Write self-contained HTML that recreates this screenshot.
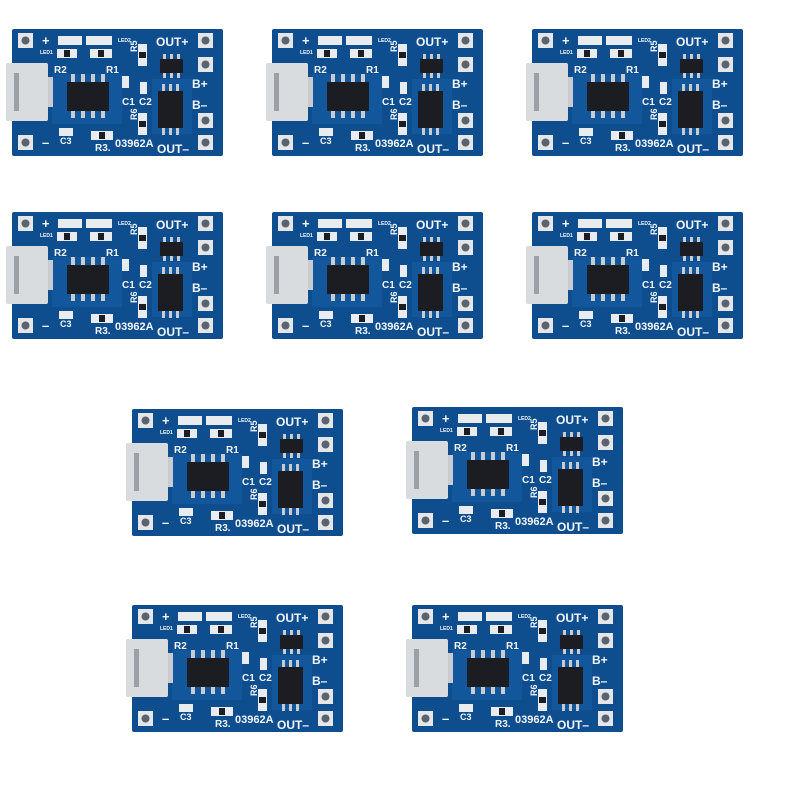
<!DOCTYPE html>
<html><head><meta charset="utf-8"><style>
html,body{margin:0;padding:0;background:#fff;width:800px;height:800px;overflow:hidden}
svg{display:block}
text{font-family:"Liberation Sans",sans-serif;font-weight:bold;fill:#f2f6fb}
.b{fill:#0f4e8e}.t{fill:#1560a8}.p{fill:#e4e6e8}.h{fill:#5a6470}.k{fill:#1b1d22}.w{fill:#d8dcdf}.s{fill:#c8ccd0}.sm{fill:#e8ecef}
</style></head><body>
<svg width="800" height="800" viewBox="0 0 800 800">
<defs></defs>

<g transform="translate(12,29)">
<rect class="b" x="0" y="0" width="211" height="127" rx="2"/>
<rect class="t" x="40" y="45" width="70" height="50" opacity=".5"/><rect class="t" x="140" y="50" width="40" height="55" opacity=".5"/>
<rect class="p" x="6" y="4" width="15" height="15"/><circle class="h" cx="13.5" cy="11.5" r="4"/>
<rect class="p" x="6" y="106" width="15" height="15"/><circle class="h" cx="13.5" cy="113.5" r="4"/>
<rect class="p" x="186" y="4" width="15" height="15"/><circle class="h" cx="193.5" cy="11.5" r="4"/>
<rect class="p" x="186" y="28" width="15" height="15"/><circle class="h" cx="193.5" cy="35.5" r="4"/>
<rect class="p" x="186" y="84" width="15" height="15"/><circle class="h" cx="193.5" cy="91.5" r="4"/>
<rect class="p" x="186" y="106" width="15" height="15"/><circle class="h" cx="193.5" cy="113.5" r="4"/>
<rect class="w" x="-6" y="34" width="42" height="58" rx="2"/><rect x="2" y="44" width="5" height="38" fill="#9aa0a6"/><rect x="36" y="48" width="5" height="30" class="s"/>
<rect class="sm" x="46" y="7" width="24" height="9"/><rect class="sm" x="74" y="7" width="26" height="9"/>
<rect class="sm" x="45" y="20" width="20" height="9"/><rect class="k" x="52" y="21" width="6" height="7"/>
<rect class="sm" x="78" y="20" width="22" height="9"/><rect class="k" x="86" y="21" width="6" height="7"/>
<rect class="sm" x="126" y="15" width="9" height="22"/><rect class="k" x="127" y="23" width="7" height="6"/>
<rect class="sm" x="126" y="84" width="9" height="22"/><rect class="k" x="127" y="92" width="7" height="6"/>
<rect class="sm" x="110" y="47" width="7" height="12"/><rect class="sm" x="128" y="53" width="7" height="12"/>
<rect class="sm" x="47" y="99" width="14" height="8"/><rect class="sm" x="79" y="102" width="22" height="9"/><rect class="k" x="87" y="103" width="6" height="7"/>
<rect class="s" x="59" y="45" width="4" height="9"/><rect class="s" x="69" y="45" width="4" height="9"/><rect class="s" x="79" y="45" width="4" height="9"/><rect class="s" x="89" y="45" width="4" height="9"/>
<rect class="s" x="59" y="80" width="4" height="9"/><rect class="s" x="69" y="80" width="4" height="9"/><rect class="s" x="79" y="80" width="4" height="9"/><rect class="s" x="89" y="80" width="4" height="9"/>
<rect class="k" x="55" y="53" width="42" height="29"/>
<rect class="s" x="151" y="25" width="3" height="6"/><rect class="s" x="158" y="25" width="3" height="6"/><rect class="s" x="165" y="25" width="3" height="6"/>
<rect class="s" x="151" y="43" width="3" height="6"/><rect class="s" x="158" y="43" width="3" height="6"/><rect class="s" x="165" y="43" width="3" height="6"/>
<rect class="k" x="148" y="30" width="23" height="14"/>
<rect class="s" x="150" y="55" width="3" height="8"/><rect class="s" x="157" y="55" width="3" height="8"/><rect class="s" x="164" y="55" width="3" height="8"/>
<rect class="s" x="150" y="98" width="3" height="8"/><rect class="s" x="157" y="98" width="3" height="8"/><rect class="s" x="164" y="98" width="3" height="8"/>
<rect class="k" x="146" y="62" width="25" height="37"/>
<text x="30" y="16" font-size="13">+</text><text x="28" y="25" font-size="5">LED1</text><text x="106" y="13" font-size="5">LED2</text>
<text x="144" y="17" font-size="12">OUT+</text><text x="42" y="44" font-size="10">R2</text><text x="94" y="44" font-size="10">R1</text>
<text x="124" y="32" font-size="9" transform="rotate(-90 120 27)">R5</text><text x="124" y="100" font-size="9" transform="rotate(-90 120 95)">R6</text>
<text x="110" y="76" font-size="10">C1</text><text x="127" y="76" font-size="10">C2</text>
<text x="180" y="59" font-size="12">B+</text><text x="180" y="80" font-size="12">B–</text>
<text x="48" y="115" font-size="9">C3</text><text x="83" y="122" font-size="10">R3.</text><text x="103" y="118" font-size="11">03962A</text><text x="145" y="124" font-size="12">OUT–</text><text x="30" y="118" font-size="13">–</text>
</g>

<g transform="translate(272,29)">
<rect class="b" x="0" y="0" width="211" height="127" rx="2"/>
<rect class="t" x="40" y="45" width="70" height="50" opacity=".5"/><rect class="t" x="140" y="50" width="40" height="55" opacity=".5"/>
<rect class="p" x="6" y="4" width="15" height="15"/><circle class="h" cx="13.5" cy="11.5" r="4"/>
<rect class="p" x="6" y="106" width="15" height="15"/><circle class="h" cx="13.5" cy="113.5" r="4"/>
<rect class="p" x="186" y="4" width="15" height="15"/><circle class="h" cx="193.5" cy="11.5" r="4"/>
<rect class="p" x="186" y="28" width="15" height="15"/><circle class="h" cx="193.5" cy="35.5" r="4"/>
<rect class="p" x="186" y="84" width="15" height="15"/><circle class="h" cx="193.5" cy="91.5" r="4"/>
<rect class="p" x="186" y="106" width="15" height="15"/><circle class="h" cx="193.5" cy="113.5" r="4"/>
<rect class="w" x="-6" y="34" width="42" height="58" rx="2"/><rect x="2" y="44" width="5" height="38" fill="#9aa0a6"/><rect x="36" y="48" width="5" height="30" class="s"/>
<rect class="sm" x="46" y="7" width="24" height="9"/><rect class="sm" x="74" y="7" width="26" height="9"/>
<rect class="sm" x="45" y="20" width="20" height="9"/><rect class="k" x="52" y="21" width="6" height="7"/>
<rect class="sm" x="78" y="20" width="22" height="9"/><rect class="k" x="86" y="21" width="6" height="7"/>
<rect class="sm" x="126" y="15" width="9" height="22"/><rect class="k" x="127" y="23" width="7" height="6"/>
<rect class="sm" x="126" y="84" width="9" height="22"/><rect class="k" x="127" y="92" width="7" height="6"/>
<rect class="sm" x="110" y="47" width="7" height="12"/><rect class="sm" x="128" y="53" width="7" height="12"/>
<rect class="sm" x="47" y="99" width="14" height="8"/><rect class="sm" x="79" y="102" width="22" height="9"/><rect class="k" x="87" y="103" width="6" height="7"/>
<rect class="s" x="59" y="45" width="4" height="9"/><rect class="s" x="69" y="45" width="4" height="9"/><rect class="s" x="79" y="45" width="4" height="9"/><rect class="s" x="89" y="45" width="4" height="9"/>
<rect class="s" x="59" y="80" width="4" height="9"/><rect class="s" x="69" y="80" width="4" height="9"/><rect class="s" x="79" y="80" width="4" height="9"/><rect class="s" x="89" y="80" width="4" height="9"/>
<rect class="k" x="55" y="53" width="42" height="29"/>
<rect class="s" x="151" y="25" width="3" height="6"/><rect class="s" x="158" y="25" width="3" height="6"/><rect class="s" x="165" y="25" width="3" height="6"/>
<rect class="s" x="151" y="43" width="3" height="6"/><rect class="s" x="158" y="43" width="3" height="6"/><rect class="s" x="165" y="43" width="3" height="6"/>
<rect class="k" x="148" y="30" width="23" height="14"/>
<rect class="s" x="150" y="55" width="3" height="8"/><rect class="s" x="157" y="55" width="3" height="8"/><rect class="s" x="164" y="55" width="3" height="8"/>
<rect class="s" x="150" y="98" width="3" height="8"/><rect class="s" x="157" y="98" width="3" height="8"/><rect class="s" x="164" y="98" width="3" height="8"/>
<rect class="k" x="146" y="62" width="25" height="37"/>
<text x="30" y="16" font-size="13">+</text><text x="28" y="25" font-size="5">LED1</text><text x="106" y="13" font-size="5">LED2</text>
<text x="144" y="17" font-size="12">OUT+</text><text x="42" y="44" font-size="10">R2</text><text x="94" y="44" font-size="10">R1</text>
<text x="124" y="32" font-size="9" transform="rotate(-90 120 27)">R5</text><text x="124" y="100" font-size="9" transform="rotate(-90 120 95)">R6</text>
<text x="110" y="76" font-size="10">C1</text><text x="127" y="76" font-size="10">C2</text>
<text x="180" y="59" font-size="12">B+</text><text x="180" y="80" font-size="12">B–</text>
<text x="48" y="115" font-size="9">C3</text><text x="83" y="122" font-size="10">R3.</text><text x="103" y="118" font-size="11">03962A</text><text x="145" y="124" font-size="12">OUT–</text><text x="30" y="118" font-size="13">–</text>
</g>

<g transform="translate(532,29)">
<rect class="b" x="0" y="0" width="211" height="127" rx="2"/>
<rect class="t" x="40" y="45" width="70" height="50" opacity=".5"/><rect class="t" x="140" y="50" width="40" height="55" opacity=".5"/>
<rect class="p" x="6" y="4" width="15" height="15"/><circle class="h" cx="13.5" cy="11.5" r="4"/>
<rect class="p" x="6" y="106" width="15" height="15"/><circle class="h" cx="13.5" cy="113.5" r="4"/>
<rect class="p" x="186" y="4" width="15" height="15"/><circle class="h" cx="193.5" cy="11.5" r="4"/>
<rect class="p" x="186" y="28" width="15" height="15"/><circle class="h" cx="193.5" cy="35.5" r="4"/>
<rect class="p" x="186" y="84" width="15" height="15"/><circle class="h" cx="193.5" cy="91.5" r="4"/>
<rect class="p" x="186" y="106" width="15" height="15"/><circle class="h" cx="193.5" cy="113.5" r="4"/>
<rect class="w" x="-6" y="34" width="42" height="58" rx="2"/><rect x="2" y="44" width="5" height="38" fill="#9aa0a6"/><rect x="36" y="48" width="5" height="30" class="s"/>
<rect class="sm" x="46" y="7" width="24" height="9"/><rect class="sm" x="74" y="7" width="26" height="9"/>
<rect class="sm" x="45" y="20" width="20" height="9"/><rect class="k" x="52" y="21" width="6" height="7"/>
<rect class="sm" x="78" y="20" width="22" height="9"/><rect class="k" x="86" y="21" width="6" height="7"/>
<rect class="sm" x="126" y="15" width="9" height="22"/><rect class="k" x="127" y="23" width="7" height="6"/>
<rect class="sm" x="126" y="84" width="9" height="22"/><rect class="k" x="127" y="92" width="7" height="6"/>
<rect class="sm" x="110" y="47" width="7" height="12"/><rect class="sm" x="128" y="53" width="7" height="12"/>
<rect class="sm" x="47" y="99" width="14" height="8"/><rect class="sm" x="79" y="102" width="22" height="9"/><rect class="k" x="87" y="103" width="6" height="7"/>
<rect class="s" x="59" y="45" width="4" height="9"/><rect class="s" x="69" y="45" width="4" height="9"/><rect class="s" x="79" y="45" width="4" height="9"/><rect class="s" x="89" y="45" width="4" height="9"/>
<rect class="s" x="59" y="80" width="4" height="9"/><rect class="s" x="69" y="80" width="4" height="9"/><rect class="s" x="79" y="80" width="4" height="9"/><rect class="s" x="89" y="80" width="4" height="9"/>
<rect class="k" x="55" y="53" width="42" height="29"/>
<rect class="s" x="151" y="25" width="3" height="6"/><rect class="s" x="158" y="25" width="3" height="6"/><rect class="s" x="165" y="25" width="3" height="6"/>
<rect class="s" x="151" y="43" width="3" height="6"/><rect class="s" x="158" y="43" width="3" height="6"/><rect class="s" x="165" y="43" width="3" height="6"/>
<rect class="k" x="148" y="30" width="23" height="14"/>
<rect class="s" x="150" y="55" width="3" height="8"/><rect class="s" x="157" y="55" width="3" height="8"/><rect class="s" x="164" y="55" width="3" height="8"/>
<rect class="s" x="150" y="98" width="3" height="8"/><rect class="s" x="157" y="98" width="3" height="8"/><rect class="s" x="164" y="98" width="3" height="8"/>
<rect class="k" x="146" y="62" width="25" height="37"/>
<text x="30" y="16" font-size="13">+</text><text x="28" y="25" font-size="5">LED1</text><text x="106" y="13" font-size="5">LED2</text>
<text x="144" y="17" font-size="12">OUT+</text><text x="42" y="44" font-size="10">R2</text><text x="94" y="44" font-size="10">R1</text>
<text x="124" y="32" font-size="9" transform="rotate(-90 120 27)">R5</text><text x="124" y="100" font-size="9" transform="rotate(-90 120 95)">R6</text>
<text x="110" y="76" font-size="10">C1</text><text x="127" y="76" font-size="10">C2</text>
<text x="180" y="59" font-size="12">B+</text><text x="180" y="80" font-size="12">B–</text>
<text x="48" y="115" font-size="9">C3</text><text x="83" y="122" font-size="10">R3.</text><text x="103" y="118" font-size="11">03962A</text><text x="145" y="124" font-size="12">OUT–</text><text x="30" y="118" font-size="13">–</text>
</g>

<g transform="translate(12,212)">
<rect class="b" x="0" y="0" width="211" height="127" rx="2"/>
<rect class="t" x="40" y="45" width="70" height="50" opacity=".5"/><rect class="t" x="140" y="50" width="40" height="55" opacity=".5"/>
<rect class="p" x="6" y="4" width="15" height="15"/><circle class="h" cx="13.5" cy="11.5" r="4"/>
<rect class="p" x="6" y="106" width="15" height="15"/><circle class="h" cx="13.5" cy="113.5" r="4"/>
<rect class="p" x="186" y="4" width="15" height="15"/><circle class="h" cx="193.5" cy="11.5" r="4"/>
<rect class="p" x="186" y="28" width="15" height="15"/><circle class="h" cx="193.5" cy="35.5" r="4"/>
<rect class="p" x="186" y="84" width="15" height="15"/><circle class="h" cx="193.5" cy="91.5" r="4"/>
<rect class="p" x="186" y="106" width="15" height="15"/><circle class="h" cx="193.5" cy="113.5" r="4"/>
<rect class="w" x="-6" y="34" width="42" height="58" rx="2"/><rect x="2" y="44" width="5" height="38" fill="#9aa0a6"/><rect x="36" y="48" width="5" height="30" class="s"/>
<rect class="sm" x="46" y="7" width="24" height="9"/><rect class="sm" x="74" y="7" width="26" height="9"/>
<rect class="sm" x="45" y="20" width="20" height="9"/><rect class="k" x="52" y="21" width="6" height="7"/>
<rect class="sm" x="78" y="20" width="22" height="9"/><rect class="k" x="86" y="21" width="6" height="7"/>
<rect class="sm" x="126" y="15" width="9" height="22"/><rect class="k" x="127" y="23" width="7" height="6"/>
<rect class="sm" x="126" y="84" width="9" height="22"/><rect class="k" x="127" y="92" width="7" height="6"/>
<rect class="sm" x="110" y="47" width="7" height="12"/><rect class="sm" x="128" y="53" width="7" height="12"/>
<rect class="sm" x="47" y="99" width="14" height="8"/><rect class="sm" x="79" y="102" width="22" height="9"/><rect class="k" x="87" y="103" width="6" height="7"/>
<rect class="s" x="59" y="45" width="4" height="9"/><rect class="s" x="69" y="45" width="4" height="9"/><rect class="s" x="79" y="45" width="4" height="9"/><rect class="s" x="89" y="45" width="4" height="9"/>
<rect class="s" x="59" y="80" width="4" height="9"/><rect class="s" x="69" y="80" width="4" height="9"/><rect class="s" x="79" y="80" width="4" height="9"/><rect class="s" x="89" y="80" width="4" height="9"/>
<rect class="k" x="55" y="53" width="42" height="29"/>
<rect class="s" x="151" y="25" width="3" height="6"/><rect class="s" x="158" y="25" width="3" height="6"/><rect class="s" x="165" y="25" width="3" height="6"/>
<rect class="s" x="151" y="43" width="3" height="6"/><rect class="s" x="158" y="43" width="3" height="6"/><rect class="s" x="165" y="43" width="3" height="6"/>
<rect class="k" x="148" y="30" width="23" height="14"/>
<rect class="s" x="150" y="55" width="3" height="8"/><rect class="s" x="157" y="55" width="3" height="8"/><rect class="s" x="164" y="55" width="3" height="8"/>
<rect class="s" x="150" y="98" width="3" height="8"/><rect class="s" x="157" y="98" width="3" height="8"/><rect class="s" x="164" y="98" width="3" height="8"/>
<rect class="k" x="146" y="62" width="25" height="37"/>
<text x="30" y="16" font-size="13">+</text><text x="28" y="25" font-size="5">LED1</text><text x="106" y="13" font-size="5">LED2</text>
<text x="144" y="17" font-size="12">OUT+</text><text x="42" y="44" font-size="10">R2</text><text x="94" y="44" font-size="10">R1</text>
<text x="124" y="32" font-size="9" transform="rotate(-90 120 27)">R5</text><text x="124" y="100" font-size="9" transform="rotate(-90 120 95)">R6</text>
<text x="110" y="76" font-size="10">C1</text><text x="127" y="76" font-size="10">C2</text>
<text x="180" y="59" font-size="12">B+</text><text x="180" y="80" font-size="12">B–</text>
<text x="48" y="115" font-size="9">C3</text><text x="83" y="122" font-size="10">R3.</text><text x="103" y="118" font-size="11">03962A</text><text x="145" y="124" font-size="12">OUT–</text><text x="30" y="118" font-size="13">–</text>
</g>

<g transform="translate(272,212)">
<rect class="b" x="0" y="0" width="211" height="127" rx="2"/>
<rect class="t" x="40" y="45" width="70" height="50" opacity=".5"/><rect class="t" x="140" y="50" width="40" height="55" opacity=".5"/>
<rect class="p" x="6" y="4" width="15" height="15"/><circle class="h" cx="13.5" cy="11.5" r="4"/>
<rect class="p" x="6" y="106" width="15" height="15"/><circle class="h" cx="13.5" cy="113.5" r="4"/>
<rect class="p" x="186" y="4" width="15" height="15"/><circle class="h" cx="193.5" cy="11.5" r="4"/>
<rect class="p" x="186" y="28" width="15" height="15"/><circle class="h" cx="193.5" cy="35.5" r="4"/>
<rect class="p" x="186" y="84" width="15" height="15"/><circle class="h" cx="193.5" cy="91.5" r="4"/>
<rect class="p" x="186" y="106" width="15" height="15"/><circle class="h" cx="193.5" cy="113.5" r="4"/>
<rect class="w" x="-6" y="34" width="42" height="58" rx="2"/><rect x="2" y="44" width="5" height="38" fill="#9aa0a6"/><rect x="36" y="48" width="5" height="30" class="s"/>
<rect class="sm" x="46" y="7" width="24" height="9"/><rect class="sm" x="74" y="7" width="26" height="9"/>
<rect class="sm" x="45" y="20" width="20" height="9"/><rect class="k" x="52" y="21" width="6" height="7"/>
<rect class="sm" x="78" y="20" width="22" height="9"/><rect class="k" x="86" y="21" width="6" height="7"/>
<rect class="sm" x="126" y="15" width="9" height="22"/><rect class="k" x="127" y="23" width="7" height="6"/>
<rect class="sm" x="126" y="84" width="9" height="22"/><rect class="k" x="127" y="92" width="7" height="6"/>
<rect class="sm" x="110" y="47" width="7" height="12"/><rect class="sm" x="128" y="53" width="7" height="12"/>
<rect class="sm" x="47" y="99" width="14" height="8"/><rect class="sm" x="79" y="102" width="22" height="9"/><rect class="k" x="87" y="103" width="6" height="7"/>
<rect class="s" x="59" y="45" width="4" height="9"/><rect class="s" x="69" y="45" width="4" height="9"/><rect class="s" x="79" y="45" width="4" height="9"/><rect class="s" x="89" y="45" width="4" height="9"/>
<rect class="s" x="59" y="80" width="4" height="9"/><rect class="s" x="69" y="80" width="4" height="9"/><rect class="s" x="79" y="80" width="4" height="9"/><rect class="s" x="89" y="80" width="4" height="9"/>
<rect class="k" x="55" y="53" width="42" height="29"/>
<rect class="s" x="151" y="25" width="3" height="6"/><rect class="s" x="158" y="25" width="3" height="6"/><rect class="s" x="165" y="25" width="3" height="6"/>
<rect class="s" x="151" y="43" width="3" height="6"/><rect class="s" x="158" y="43" width="3" height="6"/><rect class="s" x="165" y="43" width="3" height="6"/>
<rect class="k" x="148" y="30" width="23" height="14"/>
<rect class="s" x="150" y="55" width="3" height="8"/><rect class="s" x="157" y="55" width="3" height="8"/><rect class="s" x="164" y="55" width="3" height="8"/>
<rect class="s" x="150" y="98" width="3" height="8"/><rect class="s" x="157" y="98" width="3" height="8"/><rect class="s" x="164" y="98" width="3" height="8"/>
<rect class="k" x="146" y="62" width="25" height="37"/>
<text x="30" y="16" font-size="13">+</text><text x="28" y="25" font-size="5">LED1</text><text x="106" y="13" font-size="5">LED2</text>
<text x="144" y="17" font-size="12">OUT+</text><text x="42" y="44" font-size="10">R2</text><text x="94" y="44" font-size="10">R1</text>
<text x="124" y="32" font-size="9" transform="rotate(-90 120 27)">R5</text><text x="124" y="100" font-size="9" transform="rotate(-90 120 95)">R6</text>
<text x="110" y="76" font-size="10">C1</text><text x="127" y="76" font-size="10">C2</text>
<text x="180" y="59" font-size="12">B+</text><text x="180" y="80" font-size="12">B–</text>
<text x="48" y="115" font-size="9">C3</text><text x="83" y="122" font-size="10">R3.</text><text x="103" y="118" font-size="11">03962A</text><text x="145" y="124" font-size="12">OUT–</text><text x="30" y="118" font-size="13">–</text>
</g>

<g transform="translate(532,212)">
<rect class="b" x="0" y="0" width="211" height="127" rx="2"/>
<rect class="t" x="40" y="45" width="70" height="50" opacity=".5"/><rect class="t" x="140" y="50" width="40" height="55" opacity=".5"/>
<rect class="p" x="6" y="4" width="15" height="15"/><circle class="h" cx="13.5" cy="11.5" r="4"/>
<rect class="p" x="6" y="106" width="15" height="15"/><circle class="h" cx="13.5" cy="113.5" r="4"/>
<rect class="p" x="186" y="4" width="15" height="15"/><circle class="h" cx="193.5" cy="11.5" r="4"/>
<rect class="p" x="186" y="28" width="15" height="15"/><circle class="h" cx="193.5" cy="35.5" r="4"/>
<rect class="p" x="186" y="84" width="15" height="15"/><circle class="h" cx="193.5" cy="91.5" r="4"/>
<rect class="p" x="186" y="106" width="15" height="15"/><circle class="h" cx="193.5" cy="113.5" r="4"/>
<rect class="w" x="-6" y="34" width="42" height="58" rx="2"/><rect x="2" y="44" width="5" height="38" fill="#9aa0a6"/><rect x="36" y="48" width="5" height="30" class="s"/>
<rect class="sm" x="46" y="7" width="24" height="9"/><rect class="sm" x="74" y="7" width="26" height="9"/>
<rect class="sm" x="45" y="20" width="20" height="9"/><rect class="k" x="52" y="21" width="6" height="7"/>
<rect class="sm" x="78" y="20" width="22" height="9"/><rect class="k" x="86" y="21" width="6" height="7"/>
<rect class="sm" x="126" y="15" width="9" height="22"/><rect class="k" x="127" y="23" width="7" height="6"/>
<rect class="sm" x="126" y="84" width="9" height="22"/><rect class="k" x="127" y="92" width="7" height="6"/>
<rect class="sm" x="110" y="47" width="7" height="12"/><rect class="sm" x="128" y="53" width="7" height="12"/>
<rect class="sm" x="47" y="99" width="14" height="8"/><rect class="sm" x="79" y="102" width="22" height="9"/><rect class="k" x="87" y="103" width="6" height="7"/>
<rect class="s" x="59" y="45" width="4" height="9"/><rect class="s" x="69" y="45" width="4" height="9"/><rect class="s" x="79" y="45" width="4" height="9"/><rect class="s" x="89" y="45" width="4" height="9"/>
<rect class="s" x="59" y="80" width="4" height="9"/><rect class="s" x="69" y="80" width="4" height="9"/><rect class="s" x="79" y="80" width="4" height="9"/><rect class="s" x="89" y="80" width="4" height="9"/>
<rect class="k" x="55" y="53" width="42" height="29"/>
<rect class="s" x="151" y="25" width="3" height="6"/><rect class="s" x="158" y="25" width="3" height="6"/><rect class="s" x="165" y="25" width="3" height="6"/>
<rect class="s" x="151" y="43" width="3" height="6"/><rect class="s" x="158" y="43" width="3" height="6"/><rect class="s" x="165" y="43" width="3" height="6"/>
<rect class="k" x="148" y="30" width="23" height="14"/>
<rect class="s" x="150" y="55" width="3" height="8"/><rect class="s" x="157" y="55" width="3" height="8"/><rect class="s" x="164" y="55" width="3" height="8"/>
<rect class="s" x="150" y="98" width="3" height="8"/><rect class="s" x="157" y="98" width="3" height="8"/><rect class="s" x="164" y="98" width="3" height="8"/>
<rect class="k" x="146" y="62" width="25" height="37"/>
<text x="30" y="16" font-size="13">+</text><text x="28" y="25" font-size="5">LED1</text><text x="106" y="13" font-size="5">LED2</text>
<text x="144" y="17" font-size="12">OUT+</text><text x="42" y="44" font-size="10">R2</text><text x="94" y="44" font-size="10">R1</text>
<text x="124" y="32" font-size="9" transform="rotate(-90 120 27)">R5</text><text x="124" y="100" font-size="9" transform="rotate(-90 120 95)">R6</text>
<text x="110" y="76" font-size="10">C1</text><text x="127" y="76" font-size="10">C2</text>
<text x="180" y="59" font-size="12">B+</text><text x="180" y="80" font-size="12">B–</text>
<text x="48" y="115" font-size="9">C3</text><text x="83" y="122" font-size="10">R3.</text><text x="103" y="118" font-size="11">03962A</text><text x="145" y="124" font-size="12">OUT–</text><text x="30" y="118" font-size="13">–</text>
</g>

<g transform="translate(132,409)">
<rect class="b" x="0" y="0" width="211" height="127" rx="2"/>
<rect class="t" x="40" y="45" width="70" height="50" opacity=".5"/><rect class="t" x="140" y="50" width="40" height="55" opacity=".5"/>
<rect class="p" x="6" y="4" width="15" height="15"/><circle class="h" cx="13.5" cy="11.5" r="4"/>
<rect class="p" x="6" y="106" width="15" height="15"/><circle class="h" cx="13.5" cy="113.5" r="4"/>
<rect class="p" x="186" y="4" width="15" height="15"/><circle class="h" cx="193.5" cy="11.5" r="4"/>
<rect class="p" x="186" y="28" width="15" height="15"/><circle class="h" cx="193.5" cy="35.5" r="4"/>
<rect class="p" x="186" y="84" width="15" height="15"/><circle class="h" cx="193.5" cy="91.5" r="4"/>
<rect class="p" x="186" y="106" width="15" height="15"/><circle class="h" cx="193.5" cy="113.5" r="4"/>
<rect class="w" x="-6" y="34" width="42" height="58" rx="2"/><rect x="2" y="44" width="5" height="38" fill="#9aa0a6"/><rect x="36" y="48" width="5" height="30" class="s"/>
<rect class="sm" x="46" y="7" width="24" height="9"/><rect class="sm" x="74" y="7" width="26" height="9"/>
<rect class="sm" x="45" y="20" width="20" height="9"/><rect class="k" x="52" y="21" width="6" height="7"/>
<rect class="sm" x="78" y="20" width="22" height="9"/><rect class="k" x="86" y="21" width="6" height="7"/>
<rect class="sm" x="126" y="15" width="9" height="22"/><rect class="k" x="127" y="23" width="7" height="6"/>
<rect class="sm" x="126" y="84" width="9" height="22"/><rect class="k" x="127" y="92" width="7" height="6"/>
<rect class="sm" x="110" y="47" width="7" height="12"/><rect class="sm" x="128" y="53" width="7" height="12"/>
<rect class="sm" x="47" y="99" width="14" height="8"/><rect class="sm" x="79" y="102" width="22" height="9"/><rect class="k" x="87" y="103" width="6" height="7"/>
<rect class="s" x="59" y="45" width="4" height="9"/><rect class="s" x="69" y="45" width="4" height="9"/><rect class="s" x="79" y="45" width="4" height="9"/><rect class="s" x="89" y="45" width="4" height="9"/>
<rect class="s" x="59" y="80" width="4" height="9"/><rect class="s" x="69" y="80" width="4" height="9"/><rect class="s" x="79" y="80" width="4" height="9"/><rect class="s" x="89" y="80" width="4" height="9"/>
<rect class="k" x="55" y="53" width="42" height="29"/>
<rect class="s" x="151" y="25" width="3" height="6"/><rect class="s" x="158" y="25" width="3" height="6"/><rect class="s" x="165" y="25" width="3" height="6"/>
<rect class="s" x="151" y="43" width="3" height="6"/><rect class="s" x="158" y="43" width="3" height="6"/><rect class="s" x="165" y="43" width="3" height="6"/>
<rect class="k" x="148" y="30" width="23" height="14"/>
<rect class="s" x="150" y="55" width="3" height="8"/><rect class="s" x="157" y="55" width="3" height="8"/><rect class="s" x="164" y="55" width="3" height="8"/>
<rect class="s" x="150" y="98" width="3" height="8"/><rect class="s" x="157" y="98" width="3" height="8"/><rect class="s" x="164" y="98" width="3" height="8"/>
<rect class="k" x="146" y="62" width="25" height="37"/>
<text x="30" y="16" font-size="13">+</text><text x="28" y="25" font-size="5">LED1</text><text x="106" y="13" font-size="5">LED2</text>
<text x="144" y="17" font-size="12">OUT+</text><text x="42" y="44" font-size="10">R2</text><text x="94" y="44" font-size="10">R1</text>
<text x="124" y="32" font-size="9" transform="rotate(-90 120 27)">R5</text><text x="124" y="100" font-size="9" transform="rotate(-90 120 95)">R6</text>
<text x="110" y="76" font-size="10">C1</text><text x="127" y="76" font-size="10">C2</text>
<text x="180" y="59" font-size="12">B+</text><text x="180" y="80" font-size="12">B–</text>
<text x="48" y="115" font-size="9">C3</text><text x="83" y="122" font-size="10">R3.</text><text x="103" y="118" font-size="11">03962A</text><text x="145" y="124" font-size="12">OUT–</text><text x="30" y="118" font-size="13">–</text>
</g>

<g transform="translate(412,407)">
<rect class="b" x="0" y="0" width="211" height="127" rx="2"/>
<rect class="t" x="40" y="45" width="70" height="50" opacity=".5"/><rect class="t" x="140" y="50" width="40" height="55" opacity=".5"/>
<rect class="p" x="6" y="4" width="15" height="15"/><circle class="h" cx="13.5" cy="11.5" r="4"/>
<rect class="p" x="6" y="106" width="15" height="15"/><circle class="h" cx="13.5" cy="113.5" r="4"/>
<rect class="p" x="186" y="4" width="15" height="15"/><circle class="h" cx="193.5" cy="11.5" r="4"/>
<rect class="p" x="186" y="28" width="15" height="15"/><circle class="h" cx="193.5" cy="35.5" r="4"/>
<rect class="p" x="186" y="84" width="15" height="15"/><circle class="h" cx="193.5" cy="91.5" r="4"/>
<rect class="p" x="186" y="106" width="15" height="15"/><circle class="h" cx="193.5" cy="113.5" r="4"/>
<rect class="w" x="-6" y="34" width="42" height="58" rx="2"/><rect x="2" y="44" width="5" height="38" fill="#9aa0a6"/><rect x="36" y="48" width="5" height="30" class="s"/>
<rect class="sm" x="46" y="7" width="24" height="9"/><rect class="sm" x="74" y="7" width="26" height="9"/>
<rect class="sm" x="45" y="20" width="20" height="9"/><rect class="k" x="52" y="21" width="6" height="7"/>
<rect class="sm" x="78" y="20" width="22" height="9"/><rect class="k" x="86" y="21" width="6" height="7"/>
<rect class="sm" x="126" y="15" width="9" height="22"/><rect class="k" x="127" y="23" width="7" height="6"/>
<rect class="sm" x="126" y="84" width="9" height="22"/><rect class="k" x="127" y="92" width="7" height="6"/>
<rect class="sm" x="110" y="47" width="7" height="12"/><rect class="sm" x="128" y="53" width="7" height="12"/>
<rect class="sm" x="47" y="99" width="14" height="8"/><rect class="sm" x="79" y="102" width="22" height="9"/><rect class="k" x="87" y="103" width="6" height="7"/>
<rect class="s" x="59" y="45" width="4" height="9"/><rect class="s" x="69" y="45" width="4" height="9"/><rect class="s" x="79" y="45" width="4" height="9"/><rect class="s" x="89" y="45" width="4" height="9"/>
<rect class="s" x="59" y="80" width="4" height="9"/><rect class="s" x="69" y="80" width="4" height="9"/><rect class="s" x="79" y="80" width="4" height="9"/><rect class="s" x="89" y="80" width="4" height="9"/>
<rect class="k" x="55" y="53" width="42" height="29"/>
<rect class="s" x="151" y="25" width="3" height="6"/><rect class="s" x="158" y="25" width="3" height="6"/><rect class="s" x="165" y="25" width="3" height="6"/>
<rect class="s" x="151" y="43" width="3" height="6"/><rect class="s" x="158" y="43" width="3" height="6"/><rect class="s" x="165" y="43" width="3" height="6"/>
<rect class="k" x="148" y="30" width="23" height="14"/>
<rect class="s" x="150" y="55" width="3" height="8"/><rect class="s" x="157" y="55" width="3" height="8"/><rect class="s" x="164" y="55" width="3" height="8"/>
<rect class="s" x="150" y="98" width="3" height="8"/><rect class="s" x="157" y="98" width="3" height="8"/><rect class="s" x="164" y="98" width="3" height="8"/>
<rect class="k" x="146" y="62" width="25" height="37"/>
<text x="30" y="16" font-size="13">+</text><text x="28" y="25" font-size="5">LED1</text><text x="106" y="13" font-size="5">LED2</text>
<text x="144" y="17" font-size="12">OUT+</text><text x="42" y="44" font-size="10">R2</text><text x="94" y="44" font-size="10">R1</text>
<text x="124" y="32" font-size="9" transform="rotate(-90 120 27)">R5</text><text x="124" y="100" font-size="9" transform="rotate(-90 120 95)">R6</text>
<text x="110" y="76" font-size="10">C1</text><text x="127" y="76" font-size="10">C2</text>
<text x="180" y="59" font-size="12">B+</text><text x="180" y="80" font-size="12">B–</text>
<text x="48" y="115" font-size="9">C3</text><text x="83" y="122" font-size="10">R3.</text><text x="103" y="118" font-size="11">03962A</text><text x="145" y="124" font-size="12">OUT–</text><text x="30" y="118" font-size="13">–</text>
</g>

<g transform="translate(132,605)">
<rect class="b" x="0" y="0" width="211" height="127" rx="2"/>
<rect class="t" x="40" y="45" width="70" height="50" opacity=".5"/><rect class="t" x="140" y="50" width="40" height="55" opacity=".5"/>
<rect class="p" x="6" y="4" width="15" height="15"/><circle class="h" cx="13.5" cy="11.5" r="4"/>
<rect class="p" x="6" y="106" width="15" height="15"/><circle class="h" cx="13.5" cy="113.5" r="4"/>
<rect class="p" x="186" y="4" width="15" height="15"/><circle class="h" cx="193.5" cy="11.5" r="4"/>
<rect class="p" x="186" y="28" width="15" height="15"/><circle class="h" cx="193.5" cy="35.5" r="4"/>
<rect class="p" x="186" y="84" width="15" height="15"/><circle class="h" cx="193.5" cy="91.5" r="4"/>
<rect class="p" x="186" y="106" width="15" height="15"/><circle class="h" cx="193.5" cy="113.5" r="4"/>
<rect class="w" x="-6" y="34" width="42" height="58" rx="2"/><rect x="2" y="44" width="5" height="38" fill="#9aa0a6"/><rect x="36" y="48" width="5" height="30" class="s"/>
<rect class="sm" x="46" y="7" width="24" height="9"/><rect class="sm" x="74" y="7" width="26" height="9"/>
<rect class="sm" x="45" y="20" width="20" height="9"/><rect class="k" x="52" y="21" width="6" height="7"/>
<rect class="sm" x="78" y="20" width="22" height="9"/><rect class="k" x="86" y="21" width="6" height="7"/>
<rect class="sm" x="126" y="15" width="9" height="22"/><rect class="k" x="127" y="23" width="7" height="6"/>
<rect class="sm" x="126" y="84" width="9" height="22"/><rect class="k" x="127" y="92" width="7" height="6"/>
<rect class="sm" x="110" y="47" width="7" height="12"/><rect class="sm" x="128" y="53" width="7" height="12"/>
<rect class="sm" x="47" y="99" width="14" height="8"/><rect class="sm" x="79" y="102" width="22" height="9"/><rect class="k" x="87" y="103" width="6" height="7"/>
<rect class="s" x="59" y="45" width="4" height="9"/><rect class="s" x="69" y="45" width="4" height="9"/><rect class="s" x="79" y="45" width="4" height="9"/><rect class="s" x="89" y="45" width="4" height="9"/>
<rect class="s" x="59" y="80" width="4" height="9"/><rect class="s" x="69" y="80" width="4" height="9"/><rect class="s" x="79" y="80" width="4" height="9"/><rect class="s" x="89" y="80" width="4" height="9"/>
<rect class="k" x="55" y="53" width="42" height="29"/>
<rect class="s" x="151" y="25" width="3" height="6"/><rect class="s" x="158" y="25" width="3" height="6"/><rect class="s" x="165" y="25" width="3" height="6"/>
<rect class="s" x="151" y="43" width="3" height="6"/><rect class="s" x="158" y="43" width="3" height="6"/><rect class="s" x="165" y="43" width="3" height="6"/>
<rect class="k" x="148" y="30" width="23" height="14"/>
<rect class="s" x="150" y="55" width="3" height="8"/><rect class="s" x="157" y="55" width="3" height="8"/><rect class="s" x="164" y="55" width="3" height="8"/>
<rect class="s" x="150" y="98" width="3" height="8"/><rect class="s" x="157" y="98" width="3" height="8"/><rect class="s" x="164" y="98" width="3" height="8"/>
<rect class="k" x="146" y="62" width="25" height="37"/>
<text x="30" y="16" font-size="13">+</text><text x="28" y="25" font-size="5">LED1</text><text x="106" y="13" font-size="5">LED2</text>
<text x="144" y="17" font-size="12">OUT+</text><text x="42" y="44" font-size="10">R2</text><text x="94" y="44" font-size="10">R1</text>
<text x="124" y="32" font-size="9" transform="rotate(-90 120 27)">R5</text><text x="124" y="100" font-size="9" transform="rotate(-90 120 95)">R6</text>
<text x="110" y="76" font-size="10">C1</text><text x="127" y="76" font-size="10">C2</text>
<text x="180" y="59" font-size="12">B+</text><text x="180" y="80" font-size="12">B–</text>
<text x="48" y="115" font-size="9">C3</text><text x="83" y="122" font-size="10">R3.</text><text x="103" y="118" font-size="11">03962A</text><text x="145" y="124" font-size="12">OUT–</text><text x="30" y="118" font-size="13">–</text>
</g>

<g transform="translate(412,605)">
<rect class="b" x="0" y="0" width="211" height="127" rx="2"/>
<rect class="t" x="40" y="45" width="70" height="50" opacity=".5"/><rect class="t" x="140" y="50" width="40" height="55" opacity=".5"/>
<rect class="p" x="6" y="4" width="15" height="15"/><circle class="h" cx="13.5" cy="11.5" r="4"/>
<rect class="p" x="6" y="106" width="15" height="15"/><circle class="h" cx="13.5" cy="113.5" r="4"/>
<rect class="p" x="186" y="4" width="15" height="15"/><circle class="h" cx="193.5" cy="11.5" r="4"/>
<rect class="p" x="186" y="28" width="15" height="15"/><circle class="h" cx="193.5" cy="35.5" r="4"/>
<rect class="p" x="186" y="84" width="15" height="15"/><circle class="h" cx="193.5" cy="91.5" r="4"/>
<rect class="p" x="186" y="106" width="15" height="15"/><circle class="h" cx="193.5" cy="113.5" r="4"/>
<rect class="w" x="-6" y="34" width="42" height="58" rx="2"/><rect x="2" y="44" width="5" height="38" fill="#9aa0a6"/><rect x="36" y="48" width="5" height="30" class="s"/>
<rect class="sm" x="46" y="7" width="24" height="9"/><rect class="sm" x="74" y="7" width="26" height="9"/>
<rect class="sm" x="45" y="20" width="20" height="9"/><rect class="k" x="52" y="21" width="6" height="7"/>
<rect class="sm" x="78" y="20" width="22" height="9"/><rect class="k" x="86" y="21" width="6" height="7"/>
<rect class="sm" x="126" y="15" width="9" height="22"/><rect class="k" x="127" y="23" width="7" height="6"/>
<rect class="sm" x="126" y="84" width="9" height="22"/><rect class="k" x="127" y="92" width="7" height="6"/>
<rect class="sm" x="110" y="47" width="7" height="12"/><rect class="sm" x="128" y="53" width="7" height="12"/>
<rect class="sm" x="47" y="99" width="14" height="8"/><rect class="sm" x="79" y="102" width="22" height="9"/><rect class="k" x="87" y="103" width="6" height="7"/>
<rect class="s" x="59" y="45" width="4" height="9"/><rect class="s" x="69" y="45" width="4" height="9"/><rect class="s" x="79" y="45" width="4" height="9"/><rect class="s" x="89" y="45" width="4" height="9"/>
<rect class="s" x="59" y="80" width="4" height="9"/><rect class="s" x="69" y="80" width="4" height="9"/><rect class="s" x="79" y="80" width="4" height="9"/><rect class="s" x="89" y="80" width="4" height="9"/>
<rect class="k" x="55" y="53" width="42" height="29"/>
<rect class="s" x="151" y="25" width="3" height="6"/><rect class="s" x="158" y="25" width="3" height="6"/><rect class="s" x="165" y="25" width="3" height="6"/>
<rect class="s" x="151" y="43" width="3" height="6"/><rect class="s" x="158" y="43" width="3" height="6"/><rect class="s" x="165" y="43" width="3" height="6"/>
<rect class="k" x="148" y="30" width="23" height="14"/>
<rect class="s" x="150" y="55" width="3" height="8"/><rect class="s" x="157" y="55" width="3" height="8"/><rect class="s" x="164" y="55" width="3" height="8"/>
<rect class="s" x="150" y="98" width="3" height="8"/><rect class="s" x="157" y="98" width="3" height="8"/><rect class="s" x="164" y="98" width="3" height="8"/>
<rect class="k" x="146" y="62" width="25" height="37"/>
<text x="30" y="16" font-size="13">+</text><text x="28" y="25" font-size="5">LED1</text><text x="106" y="13" font-size="5">LED2</text>
<text x="144" y="17" font-size="12">OUT+</text><text x="42" y="44" font-size="10">R2</text><text x="94" y="44" font-size="10">R1</text>
<text x="124" y="32" font-size="9" transform="rotate(-90 120 27)">R5</text><text x="124" y="100" font-size="9" transform="rotate(-90 120 95)">R6</text>
<text x="110" y="76" font-size="10">C1</text><text x="127" y="76" font-size="10">C2</text>
<text x="180" y="59" font-size="12">B+</text><text x="180" y="80" font-size="12">B–</text>
<text x="48" y="115" font-size="9">C3</text><text x="83" y="122" font-size="10">R3.</text><text x="103" y="118" font-size="11">03962A</text><text x="145" y="124" font-size="12">OUT–</text><text x="30" y="118" font-size="13">–</text>
</g>

</svg>
</body></html>
